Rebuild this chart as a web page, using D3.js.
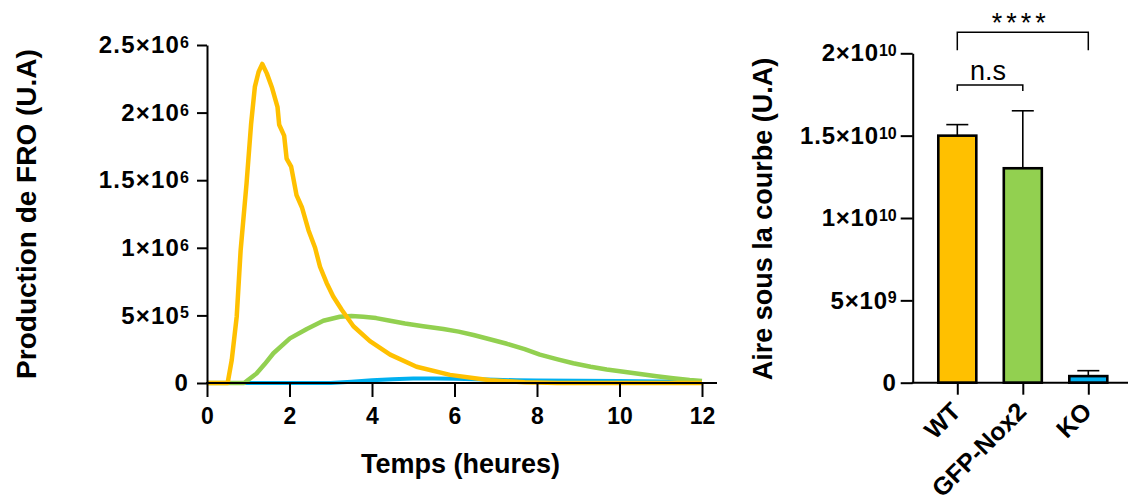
<!DOCTYPE html>
<html lang="fr">
<head>
  <meta charset="utf-8">
  <title>Production de FRO</title>
  <script src="https://cdn.jsdelivr.net/npm/d3@7"></script>
  <style>
    body { margin: 0; background: #fff; }
    svg { display: block; font-family: "Liberation Sans", Arial, sans-serif; }
    .axis path, .axis line { stroke: #000; stroke-width: 2px; }
    .axis text { font-weight: bold; fill: #000; }
    .title { font-weight: bold; fill: #000; }
    .curve { fill: none; stroke-linejoin: round; }
  </style>
</head>
<body>
  <svg id="chart" width="1128" height="504"></svg>

  <script>
    // cinétique : temps (h) et production (U.A) pour chaque lignée
    const timeWT = [0, 0.5, 0.6, 0.72, 0.815, 0.96, 1.07, 1.16, 1.25, 1.34, 1.45, 1.57, 1.71, 1.75, 1.87, 1.93, 2.04, 2.17, 2.3, 2.46, 2.62, 2.74, 2.9, 3.06, 3.27, 3.55, 3.95, 4.44, 5.08, 5.89, 6.86, 7.7, 8.5, 12];
    const prodWT = [0, 0, 0.17e6, 0.49e6, 0.98e6, 1.48e6, 1.92e6, 2.19e6, 2.3e6, 2.36e6, 2.29e6, 2.19e6, 2.04e6, 1.91e6, 1.83e6, 1.66e6, 1.6e6, 1.39e6, 1.3e6, 1.13e6, 1.0e6, 0.86e6, 0.74e6, 0.64e6, 0.54e6, 0.42e6, 0.31e6, 0.21e6, 0.12e6, 0.06e6, 0.02e6, 0.005e6, 0, 0];

    const timeGFP = [0, 0.9, 1.2, 1.4, 1.61, 2.01, 2.42, 2.82, 3.22, 3.5, 3.79, 4.1, 4.44, 4.8, 5.24, 5.73, 6.1, 6.46, 6.9, 7.27, 7.7, 8.07, 8.5, 8.88, 9.3, 9.69, 10.1, 10.5, 10.9, 11.3, 11.7, 12];
    const prodGFP = [0, 0, 0.07e6, 0.14e6, 0.22e6, 0.33e6, 0.40e6, 0.46e6, 0.49e6, 0.495e6, 0.49e6, 0.48e6, 0.46e6, 0.44e6, 0.42e6, 0.40e6, 0.38e6, 0.355e6, 0.32e6, 0.29e6, 0.25e6, 0.21e6, 0.175e6, 0.146e6, 0.12e6, 0.10e6, 0.083e6, 0.067e6, 0.05e6, 0.035e6, 0.022e6, 0.015e6];

    const timeKO = [0, 3, 3.5, 4, 4.5, 5, 5.5, 6, 6.5, 7, 7.5, 8, 9, 10, 11, 12];
    const prodKO = [0, 0, 0.01e6, 0.02e6, 0.028e6, 0.033e6, 0.034e6, 0.032e6, 0.028e6, 0.024e6, 0.02e6, 0.018e6, 0.016e6, 0.014e6, 0.012e6, 0.01e6];

    // aire sous la courbe : moyenne et haut de la barre d'erreur
    const groups = ["WT", "GFP-Nox2", "KO"];
    const aucMean = [1.5e10, 1.302e10, 0.04e10];
    const aucUpper = [1.567e10, 1.651e10, 0.073e10];

    const leftTicksY = [0, 5e5, 1e6, 1.5e6, 2e6, 2.5e6];
    const leftTicksX = [0, 2, 4, 6, 8, 10, 12];
    const rightTicksY = [0, 5e9, 1e10, 1.5e10, 2e10];

    const colors = { "WT": "#FFC000", "GFP-Nox2": "#92D050", "KO": "#00B0F0" };

    const svg = d3.select("#chart");

    // écrit "m×10^e" avec l'exposant en exposant
    function sciLabels(g, supSize) {
      g.selectAll(".tick text").each(function(d) {
        const t = d3.select(this).text(null);
        if (d === 0) { t.text("0"); return; }
        const e = Math.floor(Math.log10(d) + 1e-9);
        const m = +(d / Math.pow(10, e)).toFixed(2);
        t.append("tspan").text(m + "×10");
        t.append("tspan").attr("dy", "-0.33em").style("font-size", supSize + "px").style("letter-spacing", "0px").text(e);
      });
    }

    // ---------- graphique de gauche : cinétique ----------
    const x = d3.scaleLinear().domain([0, 12]).range([207, 702]);
    const y = d3.scaleLinear().domain([0, 2.5e6]).range([383, 45]);

    const line = d3.line().x(d => x(d[0])).y(d => y(d[1]));
    const series = [
      { name: "KO", pts: d3.zip(timeKO, prodKO), w: 4 },
      { name: "GFP-Nox2", pts: d3.zip(timeGFP, prodGFP), w: 4.5 },
      { name: "WT", pts: d3.zip(timeWT, prodWT), w: 4.5 }
    ];
    svg.append("g").selectAll("path")
      .data(series).enter().append("path")
      .attr("class", "curve")
      .attr("d", d => line(d.pts))
      .attr("stroke", d => colors[d.name])
      .attr("stroke-width", d => d.w);

    const yAxisL = svg.append("g").attr("class", "axis")
      .attr("transform", `translate(${x(0)},0)`)
      .call(d3.axisLeft(y).tickValues(leftTicksY).tickSize(10).tickPadding(8).tickSizeOuter(0));
    yAxisL.selectAll("text").style("font-size", "24px").style("letter-spacing", "1.2px");
    yAxisL.call(sciLabels, 16);

    const xAxisL = svg.append("g").attr("class", "axis")
      .attr("transform", `translate(0,${y(0)})`)
      .call(d3.axisBottom(x).tickValues(leftTicksX).tickFormat(d3.format("d")).tickSize(14).tickPadding(11));
    xAxisL.select(".domain").remove();
    xAxisL.selectAll("text").style("font-size", "23px");
    xAxisL.append("line")
      .attr("x1", x(0) - 1).attr("x2", x(12) + 15)
      .attr("stroke", "#000").attr("stroke-width", 2);

    svg.append("text").attr("class", "title")
      .attr("transform", `translate(36,${(y(0) + y(2.5e6)) / 2}) rotate(-90)`)
      .attr("text-anchor", "middle").style("font-size", "28px")
      .text("Production de FRO (U.A)");

    svg.append("text").attr("class", "title")
      .attr("x", (x(0) + x(12)) / 2 + 6).attr("y", 473)
      .attr("text-anchor", "middle").style("font-size", "27px")
      .text("Temps (heures)");

    // ---------- graphique de droite : aire sous la courbe ----------
    const xb = d3.scalePoint().domain(groups).range([957.3, 1088.3]);
    const yb = d3.scaleLinear().domain([0, 2e10]).range([382.7, 53.3]);
    const barW = 38;

    svg.append("g").selectAll("rect")
      .data(groups).enter().append("rect")
      .attr("x", d => xb(d) - barW / 2)
      .attr("y", (d, i) => yb(aucMean[i]))
      .attr("width", barW)
      .attr("height", (d, i) => yb(0) - yb(aucMean[i]))
      .attr("fill", d => colors[d])
      .attr("stroke", "#000").attr("stroke-width", 2.6);

    // barres d'erreur (SD, côté haut uniquement)
    const err = svg.append("g").attr("stroke", "#000").attr("stroke-width", 1.6);
    groups.forEach((g, i) => {
      err.append("line")
        .attr("x1", xb(g)).attr("x2", xb(g))
        .attr("y1", yb(aucMean[i])).attr("y2", yb(aucUpper[i]));
      err.append("line")
        .attr("x1", xb(g) - 11).attr("x2", xb(g) + 11)
        .attr("y1", yb(aucUpper[i])).attr("y2", yb(aucUpper[i]));
    });

    const yAxisR = svg.append("g").attr("class", "axis")
      .attr("transform", "translate(912.7,0)")
      .call(d3.axisLeft(yb).tickValues(rightTicksY).tickSize(12).tickPadding(4).tickSizeOuter(0));
    yAxisR.selectAll("text").style("font-size", "24px").style("letter-spacing", "0.8px");
    yAxisR.call(sciLabels, 16);

    const xAxisR = svg.append("g").attr("class", "axis")
      .attr("transform", `translate(0,${yb(0)})`)
      .call(d3.axisBottom(xb).tickSize(12).tickFormat(""));
    xAxisR.select(".domain").remove();
    xAxisR.append("line")
      .attr("x1", 912.7 - 1).attr("x2", 1128)
      .attr("stroke", "#000").attr("stroke-width", 2);

    svg.append("g").selectAll("text")
      .data(groups).enter().append("text")
      .attr("class", "title")
      .attr("transform", d => `translate(${xb(d) + 5},413) rotate(-45)`)
      .attr("text-anchor", "end").style("font-size", "25px")
      .text(d => d);

    svg.append("text").attr("class", "title")
      .attr("transform", `translate(772,${(yb(0) + yb(2e10)) / 2 + 1}) rotate(-90)`)
      .attr("text-anchor", "middle").style("font-size", "27px")
      .text("Aire sous la courbe (U.A)");

    // comparaisons statistiques
    const comps = [
      { a: "WT", b: "KO", label: "****", top: 32.3, leg: 18, textY: 32, size: 27, spacing: 4 },
      { a: "WT", b: "GFP-Nox2", label: "n.s", top: 85, leg: 6, textY: 80, size: 27, spacing: 0 }
    ];
    comps.forEach(c => {
      const x1 = xb(c.a), x2 = xb(c.b);
      svg.append("path")
        .attr("d", `M${x1},${c.top + c.leg}V${c.top}H${x2}V${c.top + c.leg}`)
        .attr("fill", "none").attr("stroke", "#000").attr("stroke-width", 1.5);
      svg.append("text")
        .attr("x", (x1 + x2) / 2 - 2).attr("y", c.textY)
        .attr("text-anchor", "middle")
        .style("font-size", c.size + "px").style("letter-spacing", c.spacing + "px")
        .text(c.label);
    });
  </script>
</body>
</html>
